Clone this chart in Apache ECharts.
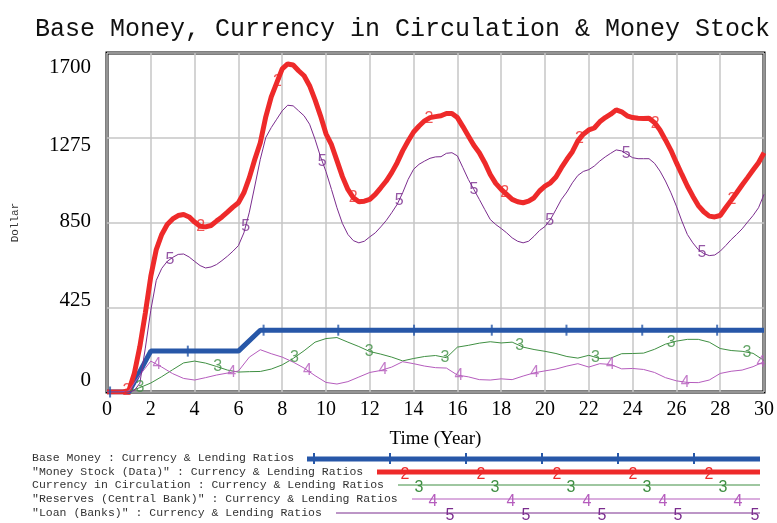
<!DOCTYPE html>
<html><head><meta charset="utf-8">
<script src="https://cdn.jsdelivr.net/npm/echarts@6/dist/echarts.min.js"></script>
<style>html,body{margin:0;padding:0;background:#fff}#c{width:777px;height:523px}</style>
</head><body><div id="c"></div>
<script>
// ---- time grids ----
const timeQuarter = Array.from({length:121},(_,i)=>i*0.25);
const timeHalf = Array.from({length:61},(_,i)=>i*0.5);

// ---- series data ----
const baseMoneyTimes = [0,1,2,6,7,30];
const baseMoneyValues = [0,0,205,205,310,310];

const moneyStock = [
0,0,0,0, 8,94,228,396, 580,714,790,840, 868,885,890,878, 852,831,828,835,
857,878,902,927, 949,999,1075,1167, 1250,1380,1480,1550, 1620,1645,1640,1611,
1586,1536,1465,1385, 1295,1240,1160,1080, 1016,974,954,957, 966,991,1024,1058,
1100,1150,1209,1259, 1304,1334,1360,1376, 1381,1385,1397,1397, 1376,1331,1284,1237,
1200,1150,1091,1046, 1016,991,966,954, 949,957,974,1008, 1032,1049,1078,1125,
1167,1205,1259,1293, 1314,1324,1355,1376, 1393,1415,1405,1385, 1376,1373,1371,1373,
1351,1314,1264,1212, 1150,1091,1033,982, 935,904,882,878, 885,924,961,999,
1038,1075,1113,1150, 1200];

const loans = [
0,0,0,0, 0,8,44,220, 410,560,620,655, 675,690,692,677, 655,634,622,627,
639,659,681,706, 734,798,902,1033, 1167,1276,1326,1368, 1410,1438,1435,1410,
1385,1343,1267,1180, 1105,1016,924,845, 790,759,748,756, 778,798,828,860,
899,941,999,1066, 1117,1142,1158,1172, 1179,1180,1197,1200, 1184,1125,1066,1016,
966,915,865,840, 820,798,773,756, 748,756,781,810, 830,865,915,966,
1003,1049,1086,1106, 1115,1133,1158,1179, 1197,1214,1209,1192, 1175,1170,1170,1170,
1147,1108,1058,999, 932,857,790,748, 714,694,684,687, 706,734,764,790,
818,852,885,924, 991];

const currency = [
0,0, 3,22, 45,77, 112,146, 155,145, 128,110, 100,102, 103,115, 136,168, 207,250,
268,273, 250,228, 203,190, 175,156, 168,178, 183,172, 225,234, 245,252, 246,250,
225,213, 204,193, 178,170, 184,168, 170,192, 193,195, 214,240, 255,264, 264,250,
218,208, 204,194, 158];

const reserves = [
0,0, 5,85, 155,125, 92,68, 60,72, 85,95, 105,175, 212,192, 175,150, 120,82,
48,40, 52,75, 98,108, 125,152, 142,130, 122,120, 85,76, 62,60, 66,62,
80,96, 106,115, 130,142, 125,142, 138,116, 118,113, 98,72, 56,48, 47,60,
93,104, 110,127, 152];

// label times (series number markers)
const marks1 = [0.14,3.69,7.15,10.56,14.02,17.57,20.98,24.44,27.86];
const marks2 = [0.91,4.28,7.78,11.24,14.70,18.16,21.57,25.03,28.54];
const marks3 = [1.50,5.05,8.56,11.97,15.43,18.84,22.30,25.76,29.22];
const marks4 = [2.28,5.69,9.15,12.61,16.07,19.53,22.99,26.40,29.86];
const marks5 = [2.87,6.33,9.83,13.34,16.75,20.21,23.71,27.17];

const xTicks = {min:0,max:30,interval:2};
const yTicks = {min:0,max:1700,interval:425};
const yTickLabels = ['0','425','850','1275','1700'];

const names = [
 'Base Money : Currency & Lending Ratios',
 '"Money Stock (Data)" : Currency & Lending Ratios',
 'Currency in Circulation : Currency & Lending Ratios',
 '"Reserves (Central Bank)" : Currency & Lending Ratios',
 '"Loan (Banks)" : Currency & Lending Ratios'
];
const colors = ['#2757a8','#ee2a2a','#3f8f42','#b55cbd','#7b2d8e'];
const widths = [5,5,1,1,1];

function pairs(ts, vs){ return ts.map((t,i)=>[t,vs[i]]); }
function valueAt(ts, vs, t){
  for(let i=0;i<ts.length-1;i++){
    if(t>=ts[i] && t<=ts[i+1]){
      const f=(t-ts[i])/(ts[i+1]-ts[i]); return vs[i]+f*(vs[i+1]-vs[i]);
    }
  }
  return vs[vs.length-1];
}
const seriesDefs = [
  [baseMoneyTimes, baseMoneyValues, marks1],
  [timeQuarter, moneyStock, marks2],
  [timeHalf, currency, marks3],
  [timeHalf, reserves, marks4],
  [timeQuarter, loans, marks5]
];

const series = [];
seriesDefs.forEach((d,k)=>{
  series.push({
    name: names[k], type:'line', data: pairs(d[0],d[1]), showSymbol:false,
    lineStyle:{color:colors[k], width:widths[k]}, itemStyle:{color:colors[k]},
    z: 2+k, animation:false, silent:true
  });
});
seriesDefs.forEach((d,k)=>{
  const pts = d[2].map(t=>[t, valueAt(d[0],d[1],t)]);
  if(k===0){
    series.push({type:'scatter', data:pts, symbol:'rect', symbolSize:[2,11],
      itemStyle:{color:colors[0]}, z:10, animation:false, silent:true});
  } else {
    series.push({type:'scatter', data:pts, symbol:'circle', symbolSize:2,
      itemStyle:{color:'rgba(255,255,255,0)'},
      label:{show:true, position:'inside', formatter:String(k+1), color:colors[k],
        fontSize:16, fontFamily:'Liberation Sans'}, z:10, animation:false, silent:true});
  }
});

// legend drawn as graphics
const legendRowsY = [459,473,486,500,514];
const legendLineStart = [307,377,398,412,336];
const legendLineEnd = 760;
const legendMarks = [
  [314,390,466,542,618,694],
  [405,481,557,633,709],
  [419,495,571,647,723],
  [433,511,587,663,738],
  [450,526,602,678,755]
];
const graphic = [];
names.forEach((n,k)=>{
  const y = legendRowsY[k];
  graphic.push({type:'text', left:32, top:y-7, style:{text:n, font:'11.5px "Liberation Mono"', fill:'#333'}});
  const ly = k===0 ? y : y-1;
  graphic.push({type:'line', shape:{x1:legendLineStart[k], y1:ly, x2:legendLineEnd, y2:ly},
    style:{stroke:colors[k], lineWidth:widths[k]}});
  legendMarks[k].forEach(x=>{
    if(k===0){
      graphic.push({type:'rect', shape:{x:x-1, y:ly-6, width:2, height:11}, style:{fill:colors[0]}});
    } else {
      graphic.push({type:'text', x:x, y:ly+3, style:{text:String(k+1), font:'16px "Liberation Sans"',
        fill:colors[k], align:'center', verticalAlign:'middle'}});
    }
  });
});

// y labels sit slightly off their grid lines in the original
const yLabelRich = {
  l0:{padding:[0,0,24,0]}, l1:{padding:[0,0,14,0]}, l2:{padding:[0,0,2,0]},
  l3:{padding:[16,0,0,0]}, l4:{padding:[29,0,0,0]}
};
Object.values(yLabelRich).forEach(r=>{r.fontSize=21; r.fontFamily='Liberation Serif'; r.color='#000';});

const chart = echarts.init(document.getElementById('c'), null, {renderer:'canvas'});
chart.setOption({
  backgroundColor:'#fff',
  animation:false,
  title:{text:'Base Money, Currency in Circulation & Money Stock', left:30, top:12,
    textStyle:{fontFamily:'Liberation Mono', fontSize:25, fontWeight:'normal', color:'#111'}},
  grid:{left:107, right:11, top:53, bottom:131, show:true, borderColor:'#000', borderWidth:3, backgroundColor:'#fff'},
  xAxis:{type:'value', min:xTicks.min, max:xTicks.max, interval:xTicks.interval,
    axisLine:{show:false}, axisTick:{show:false},
    splitLine:{show:true, lineStyle:{color:'#c6c6c6', width:1.5}},
    axisLabel:{margin:8, fontSize:20, fontFamily:'Liberation Serif', color:'#000'},
    name:'Time (Year)', nameLocation:'middle', nameGap:38,
    nameTextStyle:{fontSize:19, fontFamily:'Liberation Serif', color:'#000'}},
  yAxis:{type:'value', min:yTicks.min, max:yTicks.max, interval:yTicks.interval,
    axisLine:{show:false}, axisTick:{show:false},
    splitLine:{show:true, lineStyle:{color:'#c6c6c6', width:1.5}},
    axisLabel:{margin:16, color:'#000', rich:yLabelRich,
      formatter:(v)=>{const i=Math.round(v/yTicks.interval); return '{l'+i+'|'+yTickLabels[i]+'}';}},
    name:'Dollar', nameLocation:'middle', nameRotate:90, nameGap:86,
    nameTextStyle:{fontSize:11, fontFamily:'Liberation Mono', color:'#333'}},
  series: series,
  graphic: graphic
});
</script>
</body></html>
